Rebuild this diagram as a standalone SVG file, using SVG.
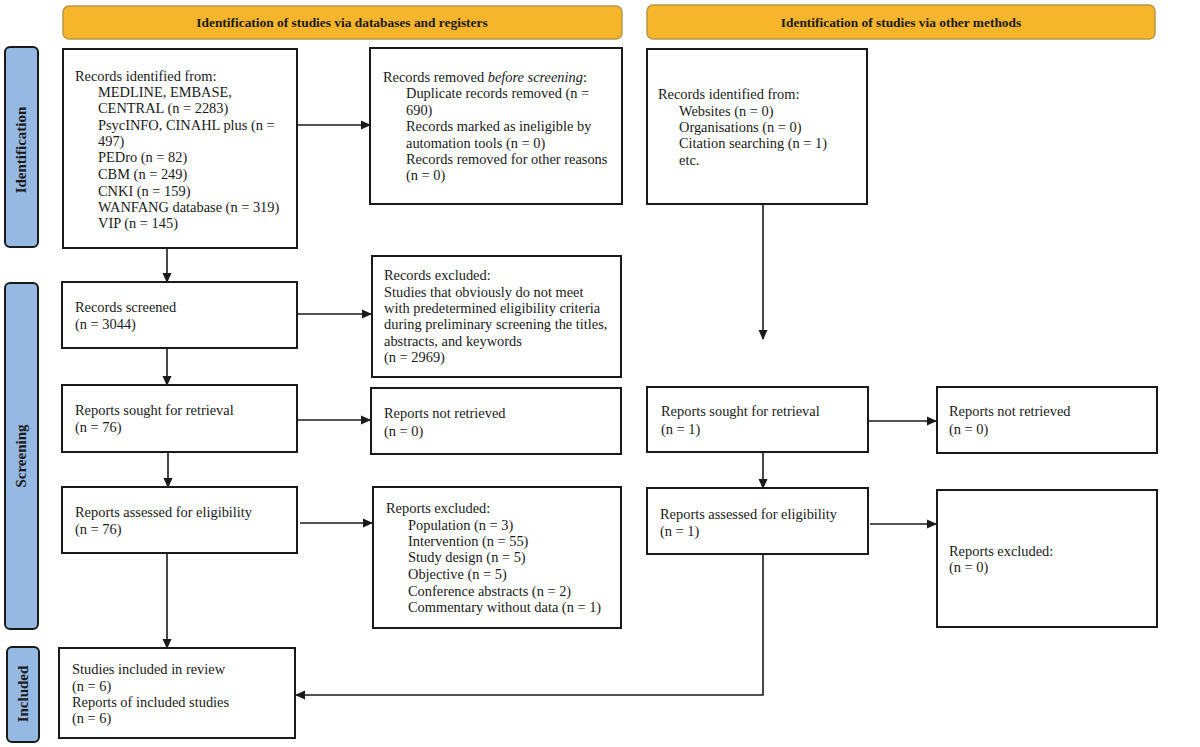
<svg xmlns="http://www.w3.org/2000/svg" width="1200" height="747" viewBox="0 0 1200 747">
<style>
.bn{fill:#F7B52C;stroke:#B8974A;stroke-width:1.5}
.sd{fill:#95B9E3;stroke:#1a1a1a;stroke-width:2}
.bx{fill:#fff;stroke:#1a1a1a;stroke-width:2}
text{font-family:"Liberation Serif","Times New Roman",serif;font-size:14.4px;fill:#1a1a1a}
.h{font-weight:bold;font-size:13.4px;text-anchor:middle}
.v{font-weight:bold;font-size:15px;text-anchor:middle}
.c line,.c polyline{stroke:#1a1a1a;stroke-width:1.6;fill:none}
</style>
<defs>
<marker id="ar" markerWidth="10" markerHeight="10" refX="9" refY="5" orient="auto" markerUnits="userSpaceOnUse">
<path d="M0,0.5 L10,5 L0,9.5 Z" fill="#1a1a1a"/>
</marker>
</defs>
<rect width="1200" height="747" fill="#fff"/>

<g id="banner-db"><rect class="bn" x="63" y="6" width="559" height="33" rx="6"/><text class="h" x="342" y="27">Identification of studies via databases and registers</text></g>
<g id="banner-other"><rect class="bn" x="647" y="5" width="508" height="34" rx="6"/><text class="h" x="901" y="27">Identification of studies via other methods</text></g>

<g id="side-identification"><rect class="sd" x="5" y="47" width="33" height="200" rx="5"/><text class="v" transform="translate(26,150) rotate(-90)">Identification</text></g>
<g id="side-screening"><rect class="sd" x="5" y="283" width="33" height="346" rx="5"/><text class="v" transform="translate(26,456) rotate(-90)">Screening</text></g>
<g id="side-included"><rect class="sd" x="7" y="647" width="32" height="95" rx="5"/><text class="v" transform="translate(28,694) rotate(-90)">Included</text></g>

<g id="records-identified"><rect class="bx" x="63" y="49" width="234" height="199"/>
<text x="75" y="81">Records identified from:</text>
<text x="98" y="97">MEDLINE, EMBASE,</text>
<text x="98" y="113">CENTRAL (n = 2283)</text>
<text x="98" y="130">PsycINFO, CINAHL plus (n =</text>
<text x="98" y="146">497)</text>
<text x="98" y="162">PEDro (n = 82)</text>
<text x="98" y="179">CBM (n = 249)</text>
<text x="98" y="196">CNKI (n = 159)</text>
<text x="98" y="212">WANFANG database (n = 319)</text>
<text x="98" y="228">VIP (n = 145)</text>
</g>

<g id="records-removed"><rect class="bx" x="370" y="48" width="252" height="156"/>
<text x="383" y="82">Records removed <tspan font-style="italic">before screening</tspan>:</text>
<text x="406" y="98">Duplicate records removed (n =</text>
<text x="406" y="115">690)</text>
<text x="406" y="131">Records marked as ineligible by</text>
<text x="406" y="148">automation tools (n = 0)</text>
<text x="406" y="164">Records removed for other reasons</text>
<text x="406" y="180">(n = 0)</text>
</g>

<g id="other-identified"><rect class="bx" x="647" y="49" width="220" height="155"/>
<text x="658" y="99">Records identified from:</text>
<text x="679" y="116">Websites (n = 0)</text>
<text x="679" y="132">Organisations (n = 0)</text>
<text x="679" y="148">Citation searching (n = 1)</text>
<text x="679" y="165">etc.</text>
</g>

<g id="records-screened"><rect class="bx" x="62" y="282" width="235" height="66"/>
<text x="75" y="312">Records screened</text>
<text x="75" y="329">(n = 3044)</text>
</g>

<g id="records-excluded"><rect class="bx" x="372" y="256" width="249" height="121"/>
<text x="384" y="280">Records excluded:</text>
<text x="384" y="297">Studies that obviously do not meet</text>
<text x="384" y="313">with predetermined eligibility criteria</text>
<text x="384" y="329">during preliminary screening the titles,</text>
<text x="384" y="346">abstracts, and keywords</text>
<text x="384" y="362">(n = 2969)</text>
</g>

<g id="reports-sought"><rect class="bx" x="62" y="385" width="235" height="67"/>
<text x="75" y="415">Reports sought for retrieval</text>
<text x="75" y="432">(n = 76)</text>
</g>

<g id="reports-not-retrieved"><rect class="bx" x="371" y="388" width="250" height="66"/>
<text x="384" y="418">Reports not retrieved</text>
<text x="384" y="436">(n = 0)</text>
</g>

<g id="reports-assessed"><rect class="bx" x="62" y="487" width="235" height="66"/>
<text x="75" y="517">Reports assessed for eligibility</text>
<text x="75" y="534">(n = 76)</text>
</g>

<g id="reports-excluded"><rect class="bx" x="373" y="487" width="248" height="141"/>
<text x="386" y="513">Reports excluded:</text>
<text x="408" y="530">Population (n = 3)</text>
<text x="408" y="546">Intervention (n = 55)</text>
<text x="408" y="562">Study design (n = 5)</text>
<text x="408" y="579">Objective (n = 5)</text>
<text x="408" y="596">Conference abstracts (n = 2)</text>
<text x="408" y="612">Commentary without data (n = 1)</text>
</g>

<g id="studies-included"><rect class="bx" x="59" y="648" width="236" height="90"/>
<text x="72" y="674">Studies included in review</text>
<text x="72" y="691">(n = 6)</text>
<text x="72" y="707">Reports of included studies</text>
<text x="72" y="723">(n = 6)</text>
</g>

<g id="other-sought"><rect class="bx" x="647" y="387" width="221" height="65"/>
<text x="661" y="416">Reports sought for retrieval</text>
<text x="661" y="434">(n = 1)</text>
</g>

<g id="other-not-retrieved"><rect class="bx" x="937" y="387" width="220" height="66"/>
<text x="949" y="416">Reports not retrieved</text>
<text x="949" y="434">(n = 0)</text>
</g>

<g id="other-assessed"><rect class="bx" x="647" y="488" width="221" height="66"/>
<text x="660" y="519">Reports assessed for eligibility</text>
<text x="660" y="536">(n = 1)</text>
</g>

<g id="other-excluded"><rect class="bx" x="937" y="490" width="220" height="137"/>
<text x="949" y="556">Reports excluded:</text>
<text x="949" y="572">(n = 0)</text>
</g>

<g id="connectors" class="c">
<line x1="297" y1="125" x2="370" y2="125" marker-end="url(#ar)"/>
<line x1="167" y1="248" x2="167" y2="282" marker-end="url(#ar)"/>
<line x1="297" y1="314" x2="371" y2="314" marker-end="url(#ar)"/>
<line x1="167" y1="348" x2="167" y2="385" marker-end="url(#ar)"/>
<line x1="298" y1="420" x2="370" y2="420" marker-end="url(#ar)"/>
<line x1="168" y1="452" x2="168" y2="487" marker-end="url(#ar)"/>
<line x1="300" y1="523" x2="372" y2="523" marker-end="url(#ar)"/>
<line x1="167" y1="553" x2="167" y2="648" marker-end="url(#ar)"/>
<line x1="763" y1="204" x2="763" y2="339" marker-end="url(#ar)"/>
<line x1="868" y1="421" x2="936" y2="421" marker-end="url(#ar)"/>
<line x1="763" y1="452" x2="763" y2="488" marker-end="url(#ar)"/>
<line x1="870" y1="524" x2="936" y2="524" marker-end="url(#ar)"/>
<polyline points="763,554 763,695 296,695" marker-end="url(#ar)"/>
</g>
</svg>
